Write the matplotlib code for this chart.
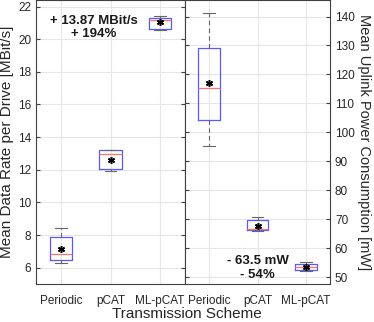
import matplotlib
matplotlib.use("Agg")
import matplotlib.pyplot as plt

plt.rcParams['font.family'] = ['Liberation Sans', 'DejaVu Sans']

schemes = ["Periodic", "pCAT", "ML-pCAT"]

# Left: mean data rate [MBit/s]
rate_wlo = [6.27, 11.94, 20.55]
rate_q1 = [6.44, 12.04, 20.63]
rate_med = [6.85, 12.98, 21.20]
rate_q3 = [7.90, 13.21, 21.31]
rate_whi = [8.44, 13.22, 21.39]
rate_mean = [7.15, 12.61, 21.06]

# Right: mean uplink power consumption [mW]
pow_wlo = [95.3, 65.9, 52.1]
pow_q1 = [104.4, 66.2, 52.5]
pow_med = [115.3, 66.5, 53.3]
pow_q3 = [129.0, 69.7, 54.4]
pow_whi = [141.1, 70.7, 55.3]
pow_mean = [116.9, 67.7, 53.4]

rate_ticks = [6, 8, 10, 12, 14, 16, 18, 20, 22]
pow_ticks = [50, 60, 70, 80, 90, 100, 110, 120, 130, 140]

W, H = 374, 322
fig = plt.figure(figsize=(W / 100, H / 100), dpi=100)
axL = fig.add_axes([36 / W, 1 - 284 / H, 149 / W, 284 / H])
axR = fig.add_axes([185 / W, 1 - 284 / H, 145 / W, 284 / H])

spine_c = '0.25'
grid_c = '0.9'


def draw(ax, wlo, q1, med, q3, whi, mean):
    stats = []
    for i in range(len(schemes)):
        stats.append(dict(whislo=wlo[i], q1=q1[i], med=med[i], q3=q3[i],
                          whishi=whi[i], mean=mean[i], fliers=[], label=schemes[i]))
    pos = list(range(1, len(schemes) + 1))
    ax.bxp(stats, positions=pos, widths=0.45, showmeans=False, showfliers=False,
           boxprops=dict(color=(0.35, 0.35, 1.0), lw=0.9),
           medianprops=dict(color=(1.0, 0.45, 0.45), lw=0.9),
           whiskerprops=dict(color='0.4', lw=0.8, ls=(0, (4, 3))),
           capprops=dict(color='0.4', lw=0.8), capwidths=0.24)
    ax.plot(pos, mean, ls='none', marker=(6, 2, 0), ms=5, mew=1.1, color='k', zorder=5)
    ax.set_xlim(0.5, 3.5)
    ax.grid(True, color=grid_c, lw=0.8)
    ax.set_axisbelow(True)
    for s in ax.spines.values():
        s.set_color(spine_c)
        s.set_linewidth(0.8)
    ax.tick_params(direction='in', length=3, colors=spine_c, labelcolor='0.15',
                   labelsize=8.5, left=True, right=True, top=False, bottom=True)
    ax.tick_params(axis='x', length=0, pad=8)


draw(axL, rate_wlo, rate_q1, rate_med, rate_q3, rate_whi, rate_mean)
axL.set_ylim(5.0, 22.4)
axL.set_yticks(rate_ticks)
axL.set_xticks([1, 2, 3], schemes)
axL.set_ylabel("Mean Data Rate per Drive [MBit/s]", fontsize=11, color='0.15', labelpad=3)
axL.text(1.67, 20.7, "+ 13.87 MBit/s\n+ 194%", ha='center', va='center', fontsize=9.5,
         fontweight='bold', color='0.1', linespacing=1.15)

draw(axR, pow_wlo, pow_q1, pow_med, pow_q3, pow_whi, pow_mean)
axR.set_ylim(47.6, 145.7)
axR.set_yticks(pow_ticks)
axR.yaxis.tick_right()
axR.tick_params(axis='y', left=True, right=True, labelleft=False, labelright=True)
axR.set_xticks([1, 2, 3], schemes)
axR.yaxis.set_label_position('right')
axR.set_ylabel("Mean Uplink Power Consumption [mW]", fontsize=10.5, color='0.15',
               rotation=270, labelpad=12)
axR.text(2.0, 53.1, "- 63.5 mW\n- 54%", ha='center', va='center', fontsize=9.5,
         fontweight='bold', color='0.1', linespacing=1.15)

fig.text(187 / W, 1 - 314 / H, "Transmission Scheme", ha='center', va='center',
         fontsize=11, color='0.15')

fig.savefig("out.png", dpi=100)
